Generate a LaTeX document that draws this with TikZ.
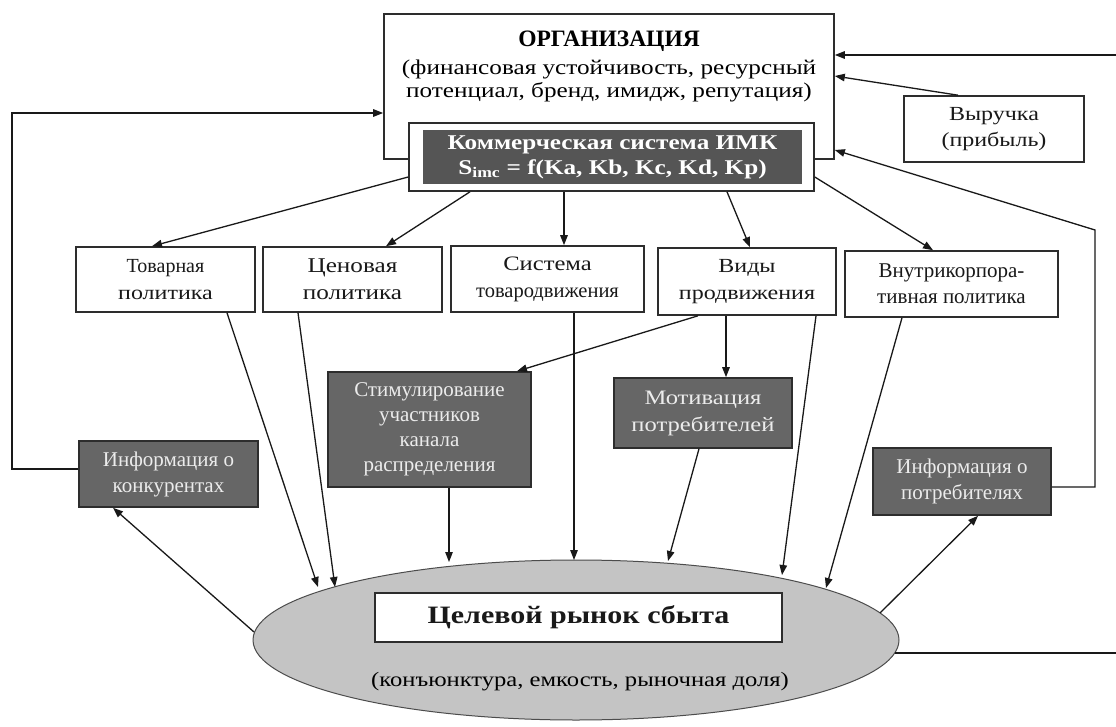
\documentclass[tikz,border=0pt]{standalone}
\usepackage{fontspec}
\setmainfont{Liberation Serif}
\newfontfamily\widefont{Liberation Serif}[FakeStretch=1.2]
\usetikzlibrary{arrows.meta,shapes.geometric}
\definecolor{dk}{RGB}{102,102,102}
\definecolor{dkk}{RGB}{85,85,85}
\definecolor{ln}{RGB}{45,45,45}
\definecolor{ell}{RGB}{196,196,196}
\definecolor{lt}{RGB}{236,236,236}
\newcommand\fz[2]{\fontsize{#1}{#2}\selectfont}
\tikzset{
  box/.style={draw=ln, line width=1.6pt, fill=white, align=center, inner sep=0pt,
    font=\fz{21}{26}, text=black!90},
  dbox/.style={box, fill=dk, text=lt},
  arr/.style={-{Triangle[length=10pt,width=7.5pt]}, line width=1.3pt, draw=black!90},
}
\begin{document}
\begin{tikzpicture}[x=1pt,y=-1pt]
\useasboundingbox (0,0) rectangle (1116,727);
\fill[white] (0,0) rectangle (1116,727);

% top organisation block
\node[box, minimum width=450pt, minimum height=145pt] (org) at (609,86.5) {};
\node[font=\bfseries\fz{23.5}{27}] (orgt) at (609,41) {ОРГАНИЗАЦИЯ};
\node[align=center, font=\widefont\fz{21}{22.5}] (orgs) at (609,81)
  {(финансовая устойчивость, ресурсный\\потенциал, бренд, имидж, репутация)};
\node[box, minimum width=405pt, minimum height=68pt] (kom) at (611.5,157) {};
\node[dbox, fill=dkk, draw=none, minimum width=379pt, minimum height=54pt,
  font=\widefont\bfseries\fz{21}{25}, text=white] (komi) at (612.5,157)
  {Коммерческая система ИМК\\S\textsubscript{imc} = f(Ka, Kb, Kc, Kd, Kp)};
\node[box, minimum width=180pt, minimum height=66pt, font=\widefont\fz{20}{26}] (vyr) at (994,129)
  {Выручка\\(прибыль)};

% second row
\node[box, minimum width=179pt, minimum height=65pt, font=\fz{20}{27}] (tov) at (165.5,279.5)
  {Товарная\\{\widefont политика}};
\node[box, minimum width=179pt, minimum height=65pt, font=\widefont\fz{21}{27}] (cen) at (352.5,279.5)
  {Ценовая\\политика};
\node[box, minimum width=193pt, minimum height=66pt, font=\fz{20.5}{27}] (sys) at (547.5,279)
  {{\widefont Система}\\товародвижения};
\node[box, minimum width=178pt, minimum height=67pt, font=\widefont\fz{20}{27}] (vid) at (747,281.5)
  {Виды\\продвижения};
\node[box, minimum width=213pt, minimum height=66pt] (vnu) at (951.5,284)
  {Внутрикорпора-\\тивная политика};

% dark boxes
\node[dbox, minimum width=203pt, minimum height=115pt, font=\fz{21}{25}] (stim) at (429.5,429.5)
  {Стимулирование\\участников\\канала\\распределения};
\node[dbox, minimum width=178pt, minimum height=70pt, font=\widefont\fz{20.5}{27}] (mot) at (703,413)
  {Мотивация\\потребителей};
\node[dbox, minimum width=179pt, minimum height=66pt] (ikon) at (168.5,474) {Информация о\\конкурентах};
\node[dbox, minimum width=178pt, minimum height=67pt] (ipot) at (962,481.5) {Информация о\\потребителях};

% target market
\node[ellipse, draw=black!70, line width=1pt, fill=ell, minimum width=646pt, minimum height=160pt,
  inner sep=0pt] (mkt) at (576,640) {};
\node[box, line width=1.4pt, minimum width=407pt, minimum height=49pt,
  font=\widefont\bfseries\fz{25}{28}] (mktt) at (578.5,617.5) {Целевой рынок сбыта};
\node[font=\widefont\fz{20.5}{25}] (mkts) at (580,682) {(конъюнктура, емкость, рыночная доля)};

% connectors from the commercial system
\draw[arr] ([yshift=-20pt]kom.west) -- ([xshift=-13.5pt]tov.north);
\draw[arr] ([xshift=-141.5pt]kom.south) -- ([xshift=33.5pt]cen.north);
\draw[arr] ([xshift=-47.5pt]kom.south) -- ([xshift=16.5pt]sys.north);
\draw[arr] ([xshift=115.5pt]kom.south) -- ([xshift=3pt]vid.north);
\draw[arr] ([yshift=-20pt]kom.east) -- ([xshift=-18.5pt]vnu.north);
\draw[arr] ([xshift=-36pt]vyr.north) -- ([yshift=10.5pt]org.east);

% promotion
\draw[arr] ([xshift=-49pt]vid.south) -- ([xshift=87.5pt]stim.north);
\draw[arr] ([xshift=-21pt]vid.south) -- ([xshift=23pt]mot.north);

% into the market
\draw[arr] ([xshift=61.5pt]tov.south) -- ([xshift=-258pt,yshift=53pt]mkt.center);
\draw[arr] ([xshift=-54.5pt]cen.south) -- ([xshift=-241pt,yshift=53pt]mkt.center);
\draw[arr] ([xshift=19.5pt]stim.south) -- ([xshift=-127pt,yshift=78pt]mkt.center);
\draw[arr] ([xshift=26.5pt]sys.south) -- ([xshift=-2pt,yshift=80pt]mkt.center);
\draw[arr] ([xshift=-4pt]mot.south) -- ([xshift=92pt,yshift=79pt]mkt.center);
\draw[arr] ([xshift=69pt]vid.south) -- ([xshift=206pt,yshift=65pt]mkt.center);
\draw[arr] ([xshift=-49.5pt]vnu.south) -- ([xshift=250pt,yshift=52pt]mkt.center);

% market information
\draw[arr] ([xshift=304pt,yshift=27pt]mkt.center) -- ([xshift=16pt]ipot.south);
\draw[arr] ([xshift=-322pt,yshift=8pt]mkt.center) -- ([xshift=-55.5pt]ikon.south);

% feedback loops
\coordinate (l1) at (12,469);
\coordinate (l2) at (12,113);
\draw[arr] ([yshift=5pt]ikon.west) -- (l1) -- (l2) -- ([yshift=-26.5pt]org.west);
\coordinate (r1) at (1095,487);
\coordinate (r2) at (1095,230);
\draw[arr] ([yshift=-5.5pt]ipot.east) -- (r1) -- (r2) -- ([yshift=-63.5pt]org.east);
\coordinate (e1) at (1125,653);
\coordinate (e2) at (1125,55);
\draw[arr] ([xshift=319pt,yshift=-13pt]mkt.center) -- (e1) -- (e2) -- ([yshift=31.5pt]org.east);
\end{tikzpicture}
\end{document}
